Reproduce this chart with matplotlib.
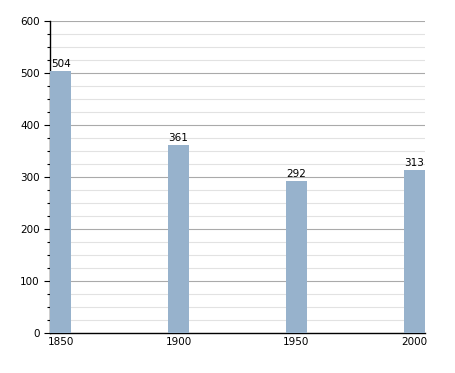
import matplotlib
matplotlib.use("Agg")
import matplotlib.pyplot as plt
from matplotlib.ticker import MultipleLocator

years = ["1850", "1900", "1950", "2000"]
population = [504, 361, 292, 313]

BAR_COLOR = "#97b2cc"

fig = plt.figure(figsize=(4.55, 3.73), dpi=100)
ax = fig.add_axes([0.110, 0.107, 0.824, 0.837])

width = 0.18
pos = list(range(len(years)))
bars = ax.bar(pos, population, width=width, color=BAR_COLOR, zorder=3)

for b, v in zip(bars, population):
    ax.text(b.get_x() + b.get_width() / 2, v + 4, str(v),
            ha="center", va="bottom", fontsize=7.5, zorder=4)

ax.set_xlim(-width / 2, len(years) - 1 + width / 2)
ax.set_ylim(0, 600)
ax.set_xticks(pos)
ax.set_xticklabels(years)
ax.yaxis.set_major_locator(MultipleLocator(100))
ax.yaxis.set_minor_locator(MultipleLocator(25))

ax.grid(axis="y", which="major", color="#aaaaaa", linewidth=0.8, zorder=1)
ax.grid(axis="y", which="minor", color="#e2e2e2", linewidth=0.8, zorder=0)
ax.set_axisbelow(True)

for s in ["top", "right"]:
    ax.spines[s].set_visible(False)
ax.spines["left"].set_linewidth(1.0)
ax.spines["bottom"].set_linewidth(1.0)

ax.tick_params(axis="x", length=0, pad=3, labelsize=7.5)
ax.tick_params(axis="y", which="major", length=4, width=0.8, labelsize=7.5)
ax.tick_params(axis="y", which="minor", length=2.5, width=0.8)

fig.savefig("out.png", dpi=100)
